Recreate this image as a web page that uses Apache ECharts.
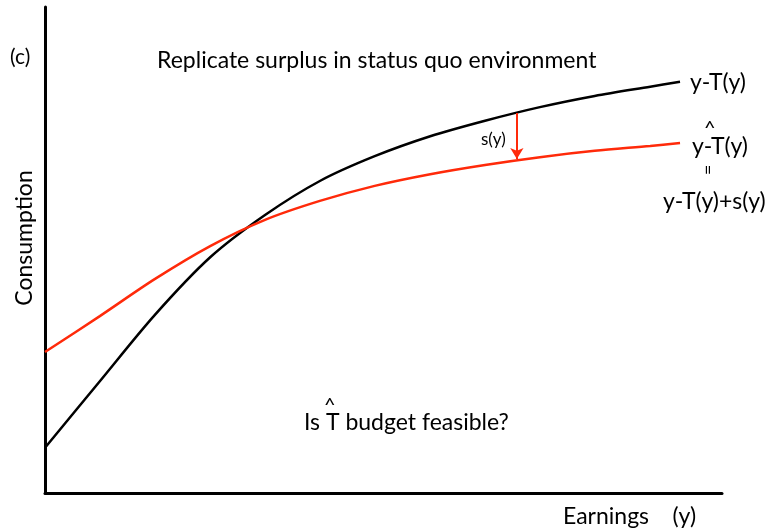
<!DOCTYPE html>
<html>
<head>
<meta charset="utf-8">
<script src="https://cdn.jsdelivr.net/npm/echarts@6/dist/echarts.min.js"></script>
<style>
  html, body { margin: 0; padding: 0; background: #fff; }
  #chart { width: 768px; height: 529px; }
</style>
</head>
<body>
<div id="chart"></div>
<script>
// earnings (x) and consumption (y), 0-100 scale
var earnings = [0, 8.1, 16.2, 24.4, 32.5, 40.6, 48.7, 56.9, 65.0, 73.1, 81.2, 89.4, 93.8];
var statusQuo = [9.3, 23.0, 36.6, 48.5, 57.2, 64.2, 69.3, 73.4, 76.6, 79.4, 81.7, 83.6, 84.6];
var replicated = [29.0, 36.4, 44.0, 50.8, 56.2, 60.1, 63.2, 65.6, 67.5, 69.1, 70.4, 71.4, 72.0];
// s(y) arrow: drawn at this earnings level, from black down to red
var arrowX = 69.7;
var arrowTop = 78.2;
var arrowBottom = 68.4;

var font = 'Lato, "Open Sans", sans-serif';

function pairs(xs, ys) {
  return xs.map(function (x, i) { return [x, ys[i]]; });
}

function label(x, y, text, size, extra) {
  var el = {
    type: 'text', x: x, y: y,
    style: { text: text, font: size + 'px ' + font, fill: '#000', align: 'left', verticalAlign: 'middle' }
  };
  if (extra) {
    for (var k in extra) el[k] = extra[k];
  }
  return el;
}

var myChart = echarts.init(document.getElementById('chart'));
var option = {
  animation: false,
  grid: { left: 45, right: 46, top: 7, bottom: 36 },
  xAxis: {
    type: 'value', min: 0, max: 100,
    axisLine: { lineStyle: { color: '#000', width: 3 } },
    axisTick: { show: false }, axisLabel: { show: false }, splitLine: { show: false }
  },
  yAxis: {
    type: 'value', min: 0, max: 100,
    axisLine: { show: true, lineStyle: { color: '#000', width: 3 } },
    axisTick: { show: false }, axisLabel: { show: false }, splitLine: { show: false }
  },
  series: [
    {
      name: 'y-T(y)',
      type: 'line',
      smooth: 0.3,
      symbol: 'none',
      data: pairs(earnings, statusQuo),
      lineStyle: { color: '#000', width: 2.5 }
    },
    {
      name: 'y-That(y)',
      type: 'line',
      smooth: 0.3,
      symbol: 'none',
      data: pairs(earnings, replicated),
      lineStyle: { color: '#ff2a0a', width: 2.5 },
      markLine: {
        silent: true,
        symbol: ['none', 'arrow'],
        symbolSize: [10, 11],
        label: { show: false },
        lineStyle: { color: '#ff2a0a', width: 2, type: 'solid' },
        data: [[{ coord: [arrowX, arrowTop] }, { coord: [arrowX, arrowBottom + 0.3] }]]
      }
    }
  ],
  graphic: [
    label(10, 57, '(c)', 21),
    label(157, 61, 'Replicate surplus in status quo environment', 23),
    label(690, 83, 'y-T(y)', 23),
    label(692, 147, 'y-T(y)', 23),
    label(704, 129, '^', 20),
    label(708, 170, '=', 18, { rotation: -Math.PI / 2, style: { text: '=', font: '18px ' + font, fill: '#000', align: 'center', verticalAlign: 'middle' } }),
    label(663, 202, 'y-T(y)+s(y)', 23),
    label(481, 140, 's(y)', 17),
    label(304, 423, 'Is T budget feasible?', 23),
    label(324, 406, '^', 20),
    label(563, 517, 'Earnings    (y)', 23),
    label(25, 238, 'Consumption', 23, { rotation: Math.PI / 2, style: { text: 'Consumption', font: '23px ' + font, fill: '#000', align: 'center', verticalAlign: 'middle' } })
  ]
};
myChart && myChart.setOption(option);
</script>
</body>
</html>
